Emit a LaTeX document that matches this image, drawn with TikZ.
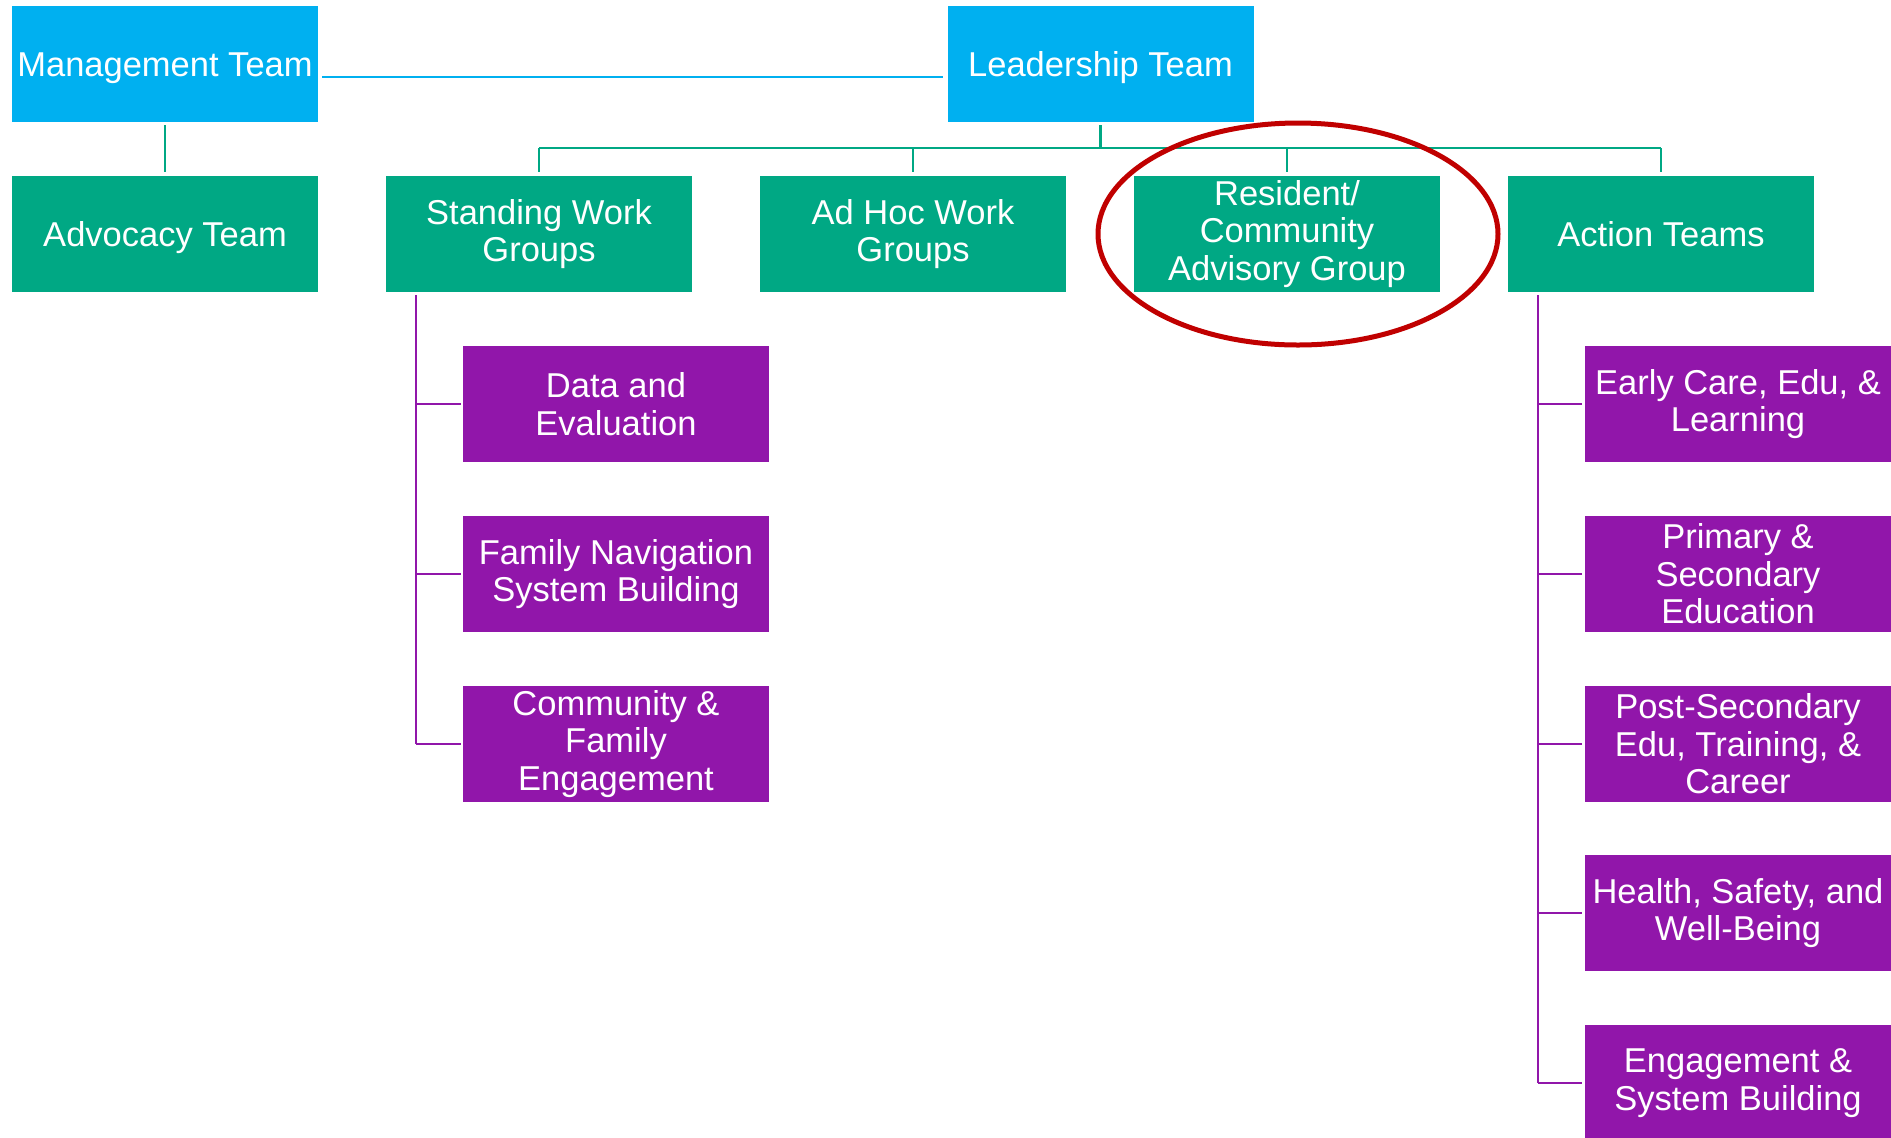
\documentclass[tikz,border=0pt]{standalone}
\usepackage{fontspec}
\setmainfont{Liberation Sans}
\definecolor{topblue}{RGB}{0,176,240}
\definecolor{teamgreen}{RGB}{0,168,132}
\definecolor{grouppurple}{RGB}{145,22,170}
\definecolor{ringred}{RGB}{192,0,0}
\begin{document}
\begin{tikzpicture}[x=0.5pt,y=-0.5pt,
  orgbox/.style={rectangle, inner sep=0pt, minimum width=153pt, minimum height=58pt,
    text=white, align=center, font=\fontsize{17.25pt}{18.7pt}\selectfont},
  bluebox/.style={orgbox, fill=topblue},
  greenbox/.style={orgbox, fill=teamgreen},
  purplebox/.style={orgbox, fill=grouppurple},
  oneline/.style={text height=14.4pt, text depth=2pt},
  blueline/.style={draw=topblue, line width=1pt},
  greenline/.style={draw=teamgreen, line width=1.1pt},
  purpleline/.style={draw=grouppurple, line width=1.1pt},
  ring/.style={draw=ringred, line width=2.5pt}]
\useasboundingbox (0,0) rectangle (1891,1137);
\clip (0,0) rectangle (1891,1137);

% top row
\node[bluebox, oneline] (mgmt) at (165,64) {Management Team};
\node[bluebox, oneline] (lead) at (1100.5,64) {Leadership Team};

% second row
\node[greenbox, oneline] (adv) at (165,234) {Advocacy Team};
\node[greenbox] (std) at (539,234) {Standing Work\\Groups};
\node[greenbox] (adhoc) at (913,234) {Ad Hoc Work\\Groups};
\node[greenbox] (res) at (1287,234) {Resident/\\Community\\Advisory Group};
\node[greenbox, oneline] (act) at (1661,234) {Action Teams};

% left purple column
\node[purplebox] (p1) at (616,404) {Data and\\Evaluation};
\node[purplebox] (p2) at (616,574) {Family Navigation\\System Building};
\node[purplebox] (p3) at (616,744) {Community \&\\Family\\Engagement};

% right purple column
\node[purplebox] (q1) at (1738,404) {Early Care, Edu, \&\\Learning};
\node[purplebox] (q2) at (1738,574) {Primary \&\\Secondary\\Education};
\node[purplebox] (q3) at (1738,744) {Post-Secondary\\Edu, Training, \&\\Career};
\node[purplebox] (q4) at (1738,913) {Health, Safety, and\\Well-Being};
\node[purplebox] (q5) at (1738,1083) {Engagement \&\\System Building};

% management -- leadership
\draw[blueline, shorten <=2pt, shorten >=2pt] ([yshift=-6.5pt]mgmt.east) -- ([yshift=-6.5pt]lead.west);
% management -- advocacy
\draw[greenline, shorten <=1.5pt, shorten >=2pt] (mgmt.south) -- (adv.north);

% leadership bus
\coordinate (bus) at (1100.5,148);
\draw[greenline, shorten <=1.5pt] (lead.south) -- (bus);
\draw[greenline] (std.north |- bus) -- (act.north |- bus);
\foreach \n in {std,adhoc,res,act}
  \draw[greenline, shorten <=2pt] (\n.north) -- (\n.north |- bus);

% left spine
\coordinate (lspine) at ([xshift=15pt]std.south west);
\draw[purpleline, shorten <=1.5pt] (lspine) -- (lspine |- p3.west);
\foreach \n in {p1,p2,p3}
  \draw[purpleline, shorten >=1pt] (lspine |- \n.west) -- (\n.west);

% right spine
\coordinate (rspine) at ([xshift=15pt]act.south west);
\draw[purpleline, shorten <=1.5pt] (rspine) -- (rspine |- q5.west);
\foreach \n in {q1,q2,q3,q4,q5}
  \draw[purpleline, shorten >=1.5pt] (rspine |- \n.west) -- (\n.west);

% highlight ring
\draw[ring] ([xshift=5.5pt]res.center) ellipse [x radius=100pt, y radius=55.5pt];
\end{tikzpicture}
\end{document}
